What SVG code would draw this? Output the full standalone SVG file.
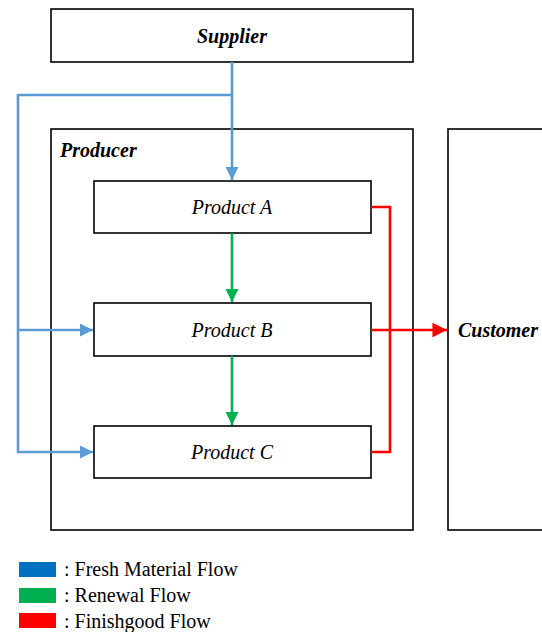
<svg xmlns="http://www.w3.org/2000/svg" width="542" height="632" viewBox="0 0 542 632">
<style>
.box{fill:#fff;stroke:#000;stroke-width:1.6}
.t{font-family:"Liberation Serif",serif;font-size:20px;fill:#000}
.bi{font-weight:bold;font-style:italic}
.i{font-style:italic}
.blue{fill:none;stroke:#5B9BD5;stroke-width:2.6}
.green{fill:none;stroke:#00B050;stroke-width:2.6}
.red{fill:none;stroke:#FF0000;stroke-width:2.6}
</style>
<defs>
<marker id="ab" viewBox="0 0 10 10" refX="10" refY="5" markerWidth="5" markerHeight="5" markerUnits="strokeWidth" orient="auto"><path d="M0,0 L10,5 L0,10 z" fill="#5B9BD5"/></marker>
<marker id="ag" viewBox="0 0 10 10" refX="10" refY="5" markerWidth="5" markerHeight="5" markerUnits="strokeWidth" orient="auto"><path d="M0,0 L10,5 L0,10 z" fill="#00B050"/></marker>
<marker id="ar" viewBox="0 0 10 10" refX="10" refY="5" markerWidth="5.6" markerHeight="5.6" markerUnits="strokeWidth" orient="auto"><path d="M0,0 L10,5 L0,10 z" fill="#FF0000"/></marker>
</defs>
<g id="supplier"><rect class="box" x="51" y="9" width="362" height="53"/><text class="t bi" x="232" y="43" text-anchor="middle">Supplier</text></g>
<g id="producer"><rect class="box" x="51" y="129" width="362" height="401"/><text class="t bi" x="60" y="157">Producer</text></g>
<g id="customer"><rect class="box" x="448" y="129" width="120" height="401"/><text class="t bi" x="458" y="337">Customer</text></g>
<g id="productA"><rect class="box" x="94" y="181" width="277" height="52"/><text class="t i" x="232" y="214" text-anchor="middle">Product A</text></g>
<g id="productB"><rect class="box" x="94" y="303" width="277" height="53"/><text class="t i" x="232" y="337" text-anchor="middle">Product B</text></g>
<g id="productC"><rect class="box" x="94" y="426" width="277" height="52"/><text class="t i" x="232" y="459" text-anchor="middle">Product C</text></g>
<g id="connectors">
<path class="blue" d="M232,62 V180" marker-end="url(#ab)"/>
<path class="blue" d="M232,95 H18 V452 H93" marker-end="url(#ab)"/>
<path class="blue" d="M18,330 H93" marker-end="url(#ab)"/>
<path class="green" d="M232,233 V302" marker-end="url(#ag)"/>
<path class="green" d="M232,356 V425" marker-end="url(#ag)"/>
<path class="red" d="M371,207 H390 V452 H371"/>
<path class="red" d="M371,330 H447" marker-end="url(#ar)"/>
</g>
<g id="legend">
<rect x="19" y="562" width="37" height="15" fill="#0070C0"/>
<rect x="19" y="588" width="37" height="15" fill="#00B050"/>
<rect x="19" y="613" width="37" height="15" fill="#FF0000"/>
<text class="t" x="64" y="576">: Fresh Material Flow</text>
<text class="t" x="64" y="602">: Renewal Flow</text>
<text class="t" x="64" y="628">: Finishgood Flow</text>
</g>
</svg>
